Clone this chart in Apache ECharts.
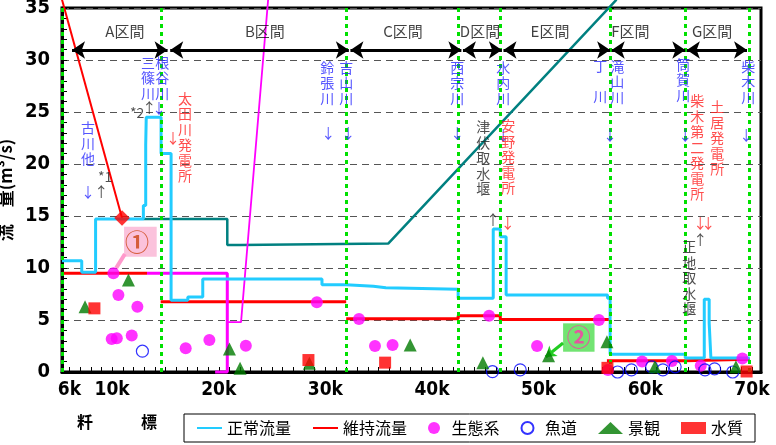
<!DOCTYPE html>
<html>
<head>
<meta charset="utf-8">
<script src="https://cdn.jsdelivr.net/npm/echarts@6/dist/echarts.min.js"></script>
<style>
html, body { margin: 0; padding: 0; background: #fff; }
#chart { width: 776px; height: 445px; }
</style>
</head>
<body>
<div id="chart"></div>
<script>
// x axis in km (粁標)
var xLabelValues = [6, 10, 20, 30, 40, 50, 60, 70];
var xTickValues = [];
for (var k = 6; k <= 70; k++) xTickValues.push(k);

// 正常流量 (step line)
var normalFlow = [[5.3, 10.7], [7.15, 10.7], [7.15, 9.6], [8.45, 9.6], [8.45, 14.7], [12.93, 14.7], [12.93, 16], [13.15, 16],
  [13.15, 21.8], [13.2, 21.8], [13.2, 24.5], [14.59, 24.5], [14.59, 21], [15.53, 21], [15.53, 6.9], [17.1, 6.9], [17.1, 7.2],
  [18.5, 7.2], [18.5, 8.95], [29.68, 8.95], [29.68, 8.4], [31.94, 8.4], [31.94, 8.25], [34.5, 8.25], [34.5, 8.1], [35.67, 8.1],
  [35.67, 7.95], [42.45, 7.95], [42.45, 7.1], [45.74, 7.1], [45.74, 13.75], [46.4, 13.75], [46.4, 13.0], [46.95, 13.0],
  [46.95, 7.4], [56.46, 7.4], [56.46, 7.1], [56.7, 7.1], [56.7, 1.7], [63.75, 1.7], [63.75, 1.35], [65.53, 1.35],
  [65.53, 7.0], [65.99, 7.0], [65.99, 4.7], [66.15, 4.7], [66.15, 1.35], [69.8, 1.35]];

// 維持流量 (separate pieces)
var maintDiag = [[5.3, 35.8], [10.93, 14.8]];
var maint1 = [[5.3, 9.5], [13.27, 9.5]];
var maint2 = [[14.55, 6.75], [31.95, 6.75]];
var maint3 = [[31.95, 5.12], [42.45, 5.12], [42.45, 5.4], [46.4, 5.4], [46.4, 5.05], [56.7, 5.05]];
var maint4 = [[56.4, 1.08], [63.75, 1.08], [63.75, 1.22], [69.8, 1.22]];
var maintDiamond = [[10.93, 14.8]];

// other lines
var magentaThick = [[13.27, 9.5], [20.8, 9.5], [20.8, 0], [19.66, 0]];
var magentaThin = [[20.8, 4.8], [22.09, 4.8], [24.63, 35.8]];
var tealLine = [[12.93, 14.7], [20.8, 14.7], [20.8, 12.2], [22.0, 12.2], [22.0, 12.35], [35.89, 12.35], [57.3, 35.8]];

// point markers
var ecoPts = [[10.12, 9.5], [10.59, 7.4], [12.37, 6.28], [9.96, 3.17], [10.44, 3.24], [11.84, 3.5], [16.9, 2.28], [19.12, 3.08],
  [22.54, 2.53], [29.2, 6.7], [33.15, 5.1], [34.65, 2.5], [36.3, 2.6], [45.35, 5.4], [49.85, 2.5], [55.65, 5.0], [56.5, 0.2],
  [59.7, 1.0], [62.5, 1.05], [65.2, 0.6], [69.1, 1.3]];
var fishPts = [[12.84, 2.0], [45.67, 0.03], [48.27, 0.2], [57.4, 0], [58.7, 0.2], [60.6, 0.5], [61.65, 0.2], [62.8, 0.5],
  [65.6, 0.2], [66.5, 0.3], [68.2, 0]];
var scenePts = [[7.46, 6.28], [11.53, 8.85], [21.0, 2.2], [22.0, 0.35], [28.5, 0.84], [37.95, 2.6], [44.77, 0.9], [50.93, 1.57],
  [56.4, 2.9], [60.9, 0.5], [68.5, 0.5]];
var waterPts = [[8.34, 6.12], [28.41, 1.15], [35.6, 0.9], [56.45, 0.4], [69.5, 0.05]];

// sections
var sectionBounds = [5.3, 14.59, 31.94, 42.45, 46.4, 56.7, 63.74, 69.74];
var sectionNames = ['A区間', 'B区間', 'C区間', 'D区間', 'E区間', 'F区間', 'G区間'];
var sectionFrom = [6.24, 15.45, 32.35, 42.9, 46.7, 56.85, 63.9];
var sectionTo = [15.2, 32.2, 42.75, 46.55, 56.7, 63.75, 69.54];
var sectionLabelX = [11.2, 24.33, 37.28, 44.5, 51.06, 58.6, 66.27];
var sectionArrowY = 30.96;
var sectionLabelY = 32.8;

// annotations [km, value, text, colour, vertical]
var notes = [
  [7.74, 22.0, '古川他', 'b', 1], [13.37, 28.27, '三篠川', 'b', 1], [14.69, 28.27, '根谷川', 'b', 1],
  [30.17, 27.8, '鈴張川', 'b', 1], [31.95, 27.8, '吉山川', 'b', 1], [42.36, 27.8, '西宗川', 'b', 1],
  [46.67, 27.8, '水内川', 'b', 1], [55.77, 28.0, '丁 川', 'b', 1], [57.37, 27.9, '滝山川', 'b', 1],
  [63.56, 28.1, '筒賀川', 'b', 1], [69.66, 27.9, '柴木川', 'b', 1],
  [7.74, 17.3, '↓', 'b', 0], [8.97, 17.3, '↑', 'k', 0], [9.34, 18.75, '*1', 'k', 0],
  [12.35, 24.9, '*2', 'k', 0], [13.48, 25.4, '↑', 'k', 0], [14.4, 25.4, '↓', 'b', 0],
  [30.26, 23.0, '↓', 'b', 0], [32.14, 23.0, '↓', 'b', 0], [42.36, 23.0, '↓', 'b', 0], [46.67, 22.8, '↓', 'b', 0],
  [56.7, 22.8, '↓', 'b', 0], [63.74, 22.8, '↓', 'b', 0], [69.46, 22.8, '↓', 'b', 0],
  [15.72, 22.5, '↓', 'r', 0], [47.1, 14.4, '↓', 'r', 0], [65.16, 14.4, '↓', 'r', 0], [65.91, 14.4, '↓', 'r', 0],
  [45.72, 14.6, '↑', 'k', 0], [65.16, 12.7, '↑', 'k', 0],
  [16.84, 22.6, '太田川発電所', 'r', 1], [47.14, 20.67, '安野発電所', 'r', 1],
  [64.87, 21.6, '柴木第二発電所', 'r', 1], [66.75, 22.5, '土居発電所', 'r', 1],
  [44.8, 20.6, '津伏取水堰', 'k', 1], [64.12, 9.04, '正地取水堰', 'k', 1]
];

// callouts
var callout1Box = [[11.12, 13.97], [14.18, 11.09]];
var callout1Text = [12.34, 12.55];
var callout1Pointer = [[11.2, 11.35], [10.38, 10.0]];
var callout2Box = [[52.29, 4.68], [55.24, 1.95]];
var callout2Text = [53.75, 3.35];
var callout2Pointer = [[52.29, 2.79], [50.66, 1.44]];

var colorOf = { b: '#2b2bff', r: '#ff2020', k: '#222222' };
var cjk = "'Noto Sans CJK JP', sans-serif";
var narrow = "'Liberation Sans Narrow', 'DejaVu Sans Condensed', sans-serif";

var chart = echarts.init(document.getElementById('chart'));

function lineSeries(name, data, color, width, z) {
  return {
    name: name, type: 'line', data: data, symbol: 'none', clip: false, silent: true,
    lineStyle: { color: color, width: width }, itemStyle: { color: color }, z: z || 3
  };
}

function textSeries(items, fontSize) {
  return {
    type: 'scatter', silent: true, symbolSize: 1, z: 6,
    itemStyle: { color: 'transparent' },
    data: items.map(function (n) {
      var txt = n[4] ? n[2].split('').join('\n') : n[2];
      return { value: [n[0], n[1]], label: { formatter: txt, color: colorOf[n[3]] } };
    }),
    label: { show: true, position: 'inside', fontSize: fontSize, lineHeight: 15.5, fontFamily: cjk }
  };
}

var series = [
  lineSeries('維持流量', maint1, '#ff0000', 3),
  lineSeries('維持流量', maintDiag, '#ff0000', 2),
  lineSeries('維持流量', maint2, '#ff0000', 3),
  lineSeries('維持流量', maint3, '#ff0000', 3),
  lineSeries('維持流量', maint4, '#ff0000', 3),
  lineSeries('正常流量', normalFlow, '#22ccff', 3, 4),
  lineSeries('teal', tealLine, '#008080', 2.5),
  lineSeries('magenta', magentaThick, '#ff00ff', 3),
  lineSeries('magenta2', magentaThin, '#ff00ff', 1.8),
  {
    name: 'diamond', type: 'scatter', data: maintDiamond, symbol: 'rect', symbolRotate: 45, symbolSize: 11,
    itemStyle: { color: '#ff0000' }, z: 5
  },
  { name: '生態系', type: 'scatter', data: ecoPts, symbol: 'circle', symbolSize: 12, itemStyle: { color: '#ff00ff' }, z: 5 },
  {
    name: '魚道', type: 'scatter', data: fishPts, symbol: 'circle', symbolSize: 12,
    itemStyle: { color: 'rgba(255,255,255,0)', borderColor: '#0000ff', borderWidth: 1.2 }, z: 5
  },
  { name: '景観', type: 'scatter', data: scenePts, symbol: 'triangle', symbolSize: 13, itemStyle: { color: '#007a00' }, z: 5 },
  { name: '水質', type: 'scatter', data: waterPts, symbol: 'rect', symbolSize: 12, itemStyle: { color: '#ff0000' }, z: 6 },
  // section boundaries
  {
    name: 'bounds', type: 'line', data: [], silent: true, z: 1,
    markLine: {
      silent: true, symbol: 'none', animation: false, label: { show: false },
      lineStyle: { color: '#00e000', type: [4, 4], width: 3 },
      data: sectionBounds.map(function (v) { return { xAxis: v }; })
    }
  },
  // section arrows
  {
    name: 'sections', type: 'line', data: [], silent: true, z: 4,
    markLine: {
      silent: true, symbol: ['arrow', 'arrow'], symbolSize: [13, 13], animation: false, label: { show: false },
      lineStyle: { color: '#000', type: 'solid', width: 3 },
      data: sectionFrom.map(function (v, i) { return [{ coord: [v, sectionArrowY] }, { coord: [sectionTo[i], sectionArrowY] }]; })
    }
  },
  // callouts
  {
    name: 'callouts', type: 'line', data: [], silent: true, z: 4,
    markArea: {
      silent: true, animation: false,
      data: [
        [{ coord: callout1Box[0], itemStyle: { color: '#fbc2dc' } }, { coord: callout1Box[1] }],
        [{ coord: callout2Box[0], itemStyle: { color: '#72e472' } }, { coord: callout2Box[1] }]
      ]
    },
    markLine: {
      silent: true, animation: false, label: { show: false }, symbolSize: 10,
      data: [
        [{ coord: callout1Pointer[0], symbol: 'none', lineStyle: { color: '#ff99cc', width: 4, type: 'solid' } }, { coord: callout1Pointer[1], symbol: 'none' }],
        [{ coord: callout2Pointer[0], symbol: 'none', lineStyle: { color: '#22cc22', width: 3, type: 'solid' } }, { coord: callout2Pointer[1], symbol: 'arrow' }]
      ]
    }
  },
  textSeries(notes, 14),
  {
    type: 'scatter', silent: true, symbolSize: 1, z: 6, itemStyle: { color: 'transparent' },
    data: sectionNames.map(function (s, i) { return { value: [sectionLabelX[i], sectionLabelY], label: { formatter: s } }; }),
    label: { show: true, position: 'inside', fontSize: 15, color: '#111', fontFamily: cjk }
  },
  {
    type: 'scatter', silent: true, symbolSize: 1, z: 7, itemStyle: { color: 'transparent' },
    data: [
      { value: callout1Text, label: { formatter: '①', color: '#cc4411' } },
      { value: callout2Text, label: { formatter: '②', color: '#ff33aa' } }
    ],
    label: { show: true, position: 'inside', fontSize: 24, fontWeight: 'bold', fontFamily: cjk }
  }
];

var option = {
  animation: false,
  backgroundColor: '#fff',
  grid: {
    left: 62, right: 15, top: 8, bottom: 73, containLabel: false, outerBoundsMode: 'none',
    show: true, borderColor: '#000', borderWidth: 3
  },
  xAxis: {
    type: 'value', min: 5.3, max: 70.85,
    axisLine: { show: true, onZero: false, lineStyle: { color: '#000', width: 3 } },
    axisTick: { show: true, inside: true, length: 5, customValues: xTickValues, lineStyle: { color: '#000' } },
    axisLabel: {
      customValues: xLabelValues, formatter: function (v) { return v + 'k'; },
      fontSize: 19, fontWeight: 'bold', fontFamily: narrow, color: '#000', margin: 9
    },
    splitLine: { show: false }
  },
  yAxis: {
    type: 'value', min: 0, max: 35, interval: 5,
    name: '流　量(m³/s)', nameLocation: 'middle', nameGap: 39, nameRotate: 90,
    nameTextStyle: { fontSize: 17, fontWeight: 'bold', fontFamily: cjk, color: '#000' },
    axisLine: { show: true, lineStyle: { color: '#000', width: 3 } },
    axisTick: { show: true, inside: true, length: 5, lineStyle: { color: '#000' } },
    minorTick: { show: true, splitNumber: 5, length: 5, lineStyle: { color: '#000' } },
    axisLabel: { fontSize: 20, fontWeight: 'bold', fontFamily: narrow, color: '#000', margin: 12 },
    splitLine: { show: true, lineStyle: { color: '#555', type: [7, 5], width: 1 } }
  },
  legend: {
    data: [
      { name: '正常流量', itemStyle: { opacity: 0 } },
      { name: '維持流量', itemStyle: { opacity: 0 } },
      '生態系', '魚道', '景観', '水質'
    ],
    left: 184, top: 414, itemGap: 21, itemWidth: 25, itemHeight: 12,
    padding: [6, 12, 6, 12], borderColor: '#000', borderWidth: 1,
    textStyle: { fontSize: 16, fontFamily: cjk, color: '#000' }
  },
  graphic: [
    { type: 'text', left: 77, top: 414, style: { text: '粁', font: 'bold 16px ' + cjk, fill: '#000' } },
    { type: 'text', left: 141, top: 414, style: { text: '標', font: 'bold 16px ' + cjk, fill: '#000' } }
  ],
  series: series
};

chart.setOption(option);
</script>
</body>
</html>
